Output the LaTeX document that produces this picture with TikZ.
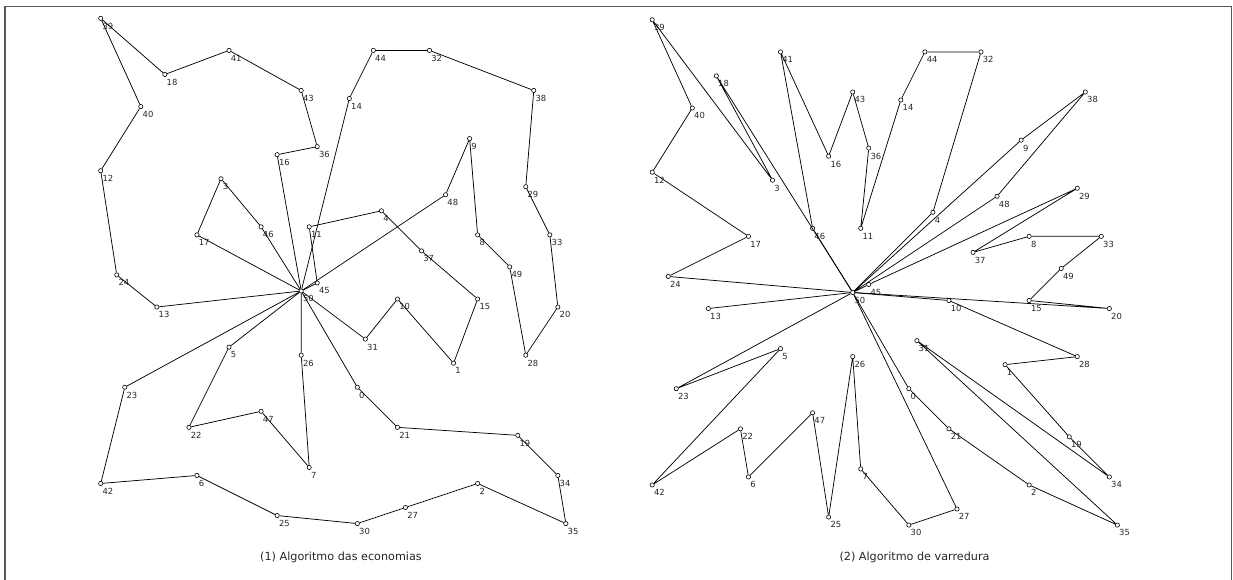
\documentclass[tikz,border=0pt]{standalone}
\usepackage{fontspec}
\setmainfont{DejaVu Sans}
\usetikzlibrary{calc}
\tikzset{
  pt/.style   = {circle, draw=black, line width=0.45pt, inner sep=0pt, minimum size=3.2pt},
  lbl/.style  = {anchor=north west, inner sep=0pt, font=\fontsize{6.3}{7}\selectfont, text=black!85},
  rt/.style   = {line width=0.55pt, black},
  capt/.style = {font=\fontsize{8.4}{10}\selectfont, text=black!85},
  frm/.style  = {line width=1.1pt, black!65},
}
% clientes (no/x/y), 50 = deposito
\newcommand{\cidades}{0/37/52, 1/49/49, 2/52/64, 3/20/26, 4/40/30, 5/21/47, 6/17/63,
  7/31/62, 8/52/33, 9/51/21, 10/42/41, 11/31/32, 12/5/25, 13/12/42, 14/36/16,
  15/52/41, 16/27/23, 17/17/33, 18/13/13, 19/57/58, 20/62/42, 21/42/57, 22/16/57,
  23/8/52, 24/7/38, 25/27/68, 26/30/48, 27/43/67, 28/58/48, 29/58/27, 30/37/69,
  31/38/46, 32/46/10, 33/61/33, 34/62/63, 35/63/69, 36/32/22, 37/45/35, 38/59/15,
  39/5/6, 40/10/17, 41/21/10, 42/5/64, 43/30/15, 44/39/10, 45/32/39, 46/25/32,
  47/25/55, 48/48/28, 49/56/37, 50/30/40}

\begin{document}
\begin{tikzpicture}[x=0.75pt, y=-0.75pt]
  \useasboundingbox (0,0) rectangle (1233,580);
  \draw[frm] (5,580) -- (5,6.5) -- (1231.5,6.5) -- (1231.5,580);

  % (1) economias
  \begin{scope}[xshift=45.45pt, yshift=22.35pt, x=6.015pt, y=-6.015pt]
    \foreach \i/\cx/\cy in \cidades {
      \node[pt] (a\i) at (\cx,\cy) {};
      \node[lbl] at ([xshift=1.2pt,yshift=-3.3pt]a\i.center) {\i};
    }
    \draw[rt] (a50) -- (a16) -- (a36) -- (a43) -- (a41) -- (a18) -- (a39) -- (a40) -- (a12) -- (a24) -- (a13) -- (a50);
    \draw[rt] (a50) -- (a17) -- (a3) -- (a46) -- (a50);
    \draw[rt] (a50) -- (a14) -- (a44) -- (a32) -- (a38) -- (a29) -- (a33) -- (a20) -- (a28) -- (a49) -- (a8) -- (a9) -- (a48) -- (a50);
    \draw[rt] (a50) -- (a45) -- (a11) -- (a4) -- (a37) -- (a15) -- (a1) -- (a10) -- (a31) -- (a50);
    \draw[rt] (a50) -- (a0) -- (a21) -- (a19) -- (a34) -- (a35) -- (a2) -- (a27) -- (a30) -- (a25) -- (a6) -- (a42) -- (a23) -- (a50);
    \draw[rt] (a50) -- (a5) -- (a22) -- (a47) -- (a7) -- (a26) -- (a50);
  \end{scope}

  % (2) varredura
  \begin{scope}[xshift=459.08pt, yshift=21.23pt, x=6.015pt, y=-6.015pt]
    \foreach \i/\cx/\cy in \cidades {
      \node[pt] (b\i) at (\cx,\cy) {};
      \node[lbl] at ([xshift=1.2pt,yshift=-3.3pt]b\i.center) {\i};
    }
    \draw[rt] (b50) -- (b4) -- (b32) -- (b44) -- (b14) -- (b11) -- (b36) -- (b43) -- (b16) -- (b41) -- (b46) -- (b50);
    \draw[rt] (b50) -- (b18) -- (b3) -- (b39) -- (b40) -- (b12) -- (b17) -- (b24) -- (b50);
    \draw[rt] (b50) -- (b13) -- (b50);
    \draw[rt] (b50) -- (b23) -- (b5) -- (b42) -- (b22) -- (b6) -- (b47) -- (b25) -- (b26) -- (b7) -- (b30) -- (b27) -- (b50);
    \draw[rt] (b50) -- (b0) -- (b21) -- (b2) -- (b35) -- (b31) -- (b34) -- (b19) -- (b1) -- (b28) -- (b10) -- (b50);
    \draw[rt] (b50) -- (b20) -- (b15) -- (b49) -- (b33) -- (b8) -- (b37) -- (b29) -- (b45) -- (b50);
    \draw[rt] (b50) -- (b48) -- (b38) -- (b9) -- (b50);
  \end{scope}

  \node[capt] (t1) at (341,557) {(1) Algoritmo das economias};
  \node[capt] (t2) at (914.5,557) {(2) Algoritmo de varredura};
\end{tikzpicture}
\end{document}
